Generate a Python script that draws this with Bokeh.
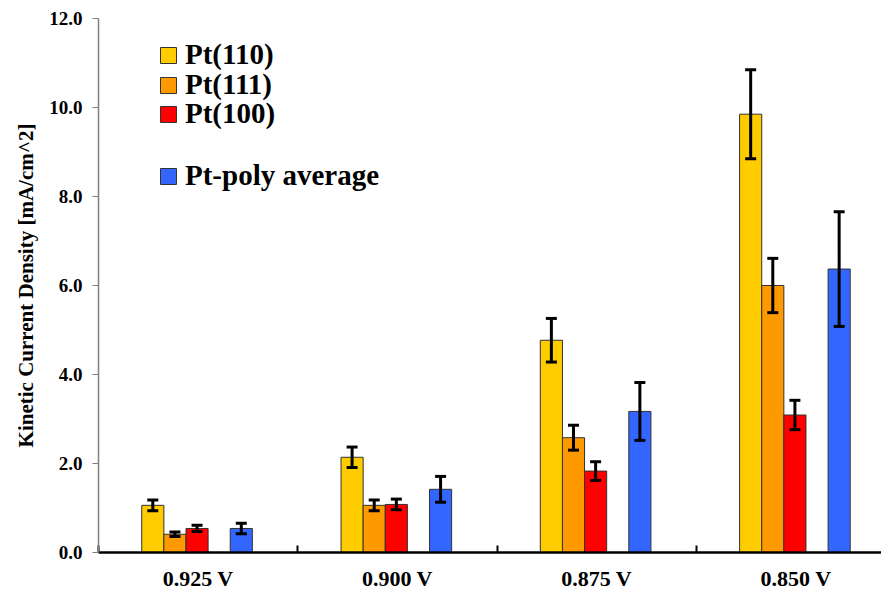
from bokeh.plotting import figure
from bokeh.models import (ColumnDataSource, Whisker, TeeHead, FixedTicker,
                          PrintfTickFormatter, Range1d, Legend, LegendItem)
from bokeh.embed import file_html
from bokeh.resources import INLINE

# Kinetic current density (mA/cm^2) at each potential, with error ranges
voltages = ["0.925 V", "0.900 V", "0.875 V", "0.850 V"]
pt110 = [1.06, 2.14, 4.77, 9.85]
pt110_err = [0.12, 0.23, 0.49, 1.00]
pt111 = [0.41, 1.06, 2.58, 6.00]
pt111_err = [0.05, 0.12, 0.28, 0.61]
pt100 = [0.54, 1.08, 1.83, 3.09]
pt100_err = [0.07, 0.12, 0.21, 0.33]
ptpoly = [0.54, 1.42, 3.17, 6.37]
ptpoly_err = [0.12, 0.29, 0.65, 1.29]

series = [
    ("Pt(110)", pt110, pt110_err, "#FFCC00", 0),
    ("Pt(111)", pt111, pt111_err, "#FF9900", 1),
    ("Pt(100)", pt100, pt100_err, "#FF0000", 2),
    ("Pt-poly average", ptpoly, ptpoly_err, "#3366FF", 4),
]

FONT = "Liberation Serif"
SLOT_START = 0.217   # left edge of the first slot inside a category
SLOT_W = 0.111       # width of one bar slot (category width = 1)

p = figure(width=881, height=593,
           x_range=Range1d(0, 3.929), y_range=Range1d(0, 12),
           output_backend="svg", toolbar_location=None,
           min_border_left=98, min_border_right=0,
           min_border_top=18, min_border_bottom=30)
p.outline_line_color = None
p.xgrid.visible = False
p.ygrid.visible = False
p.background_fill_color = "white"

renderers = {}
for name, vals, errs, color, slot in series:
    xs = [i + SLOT_START + (slot + 0.5) * SLOT_W for i in range(len(vals))]
    src = ColumnDataSource(dict(
        x=xs, top=vals,
        upper=[v + e for v, e in zip(vals, errs)],
        lower=[v - e for v, e in zip(vals, errs)],
    ))
    r = p.vbar(x="x", top="top", width=SLOT_W, source=src,
               fill_color=color, line_color="#333333", line_width=1)
    renderers[name] = r
    w = Whisker(base="x", upper="upper", lower="lower", source=src,
                dimension="height", line_color="black", line_width=3,
                level="overlay",
                upper_head=TeeHead(size=11, line_color="black", line_width=3),
                lower_head=TeeHead(size=11, line_color="black", line_width=3))
    p.add_layout(w)

# y axis
p.yaxis.ticker = FixedTicker(ticks=[0, 2, 4, 6, 8, 10, 12])
p.yaxis.formatter = PrintfTickFormatter(format="%.1f")
p.yaxis.axis_line_color = "#808080"
p.yaxis.axis_line_width = 1.5
p.yaxis.major_tick_line_color = "#808080"
p.yaxis.major_tick_out = 6
p.yaxis.major_tick_in = 0
p.yaxis.minor_tick_line_color = None
p.yaxis.major_label_text_font = FONT
p.yaxis.major_label_text_font_style = "bold"
p.yaxis.major_label_text_font_size = "19px"
p.yaxis.major_label_text_color = "black"
p.yaxis.major_label_standoff = 10
p.yaxis.axis_label = "Kinetic Current Density [mA/cm^2]"
p.yaxis.axis_label_text_font = FONT
p.yaxis.axis_label_text_font_style = "bold"
p.yaxis.axis_label_text_font_size = "21px"
p.yaxis.axis_label_text_color = "black"
p.yaxis.axis_label_standoff = 8

# x axis: labels at category centres, boundary ticks pointing up
p.xaxis.ticker = FixedTicker(ticks=[0.5, 1.5, 2.5, 3.5], minor_ticks=[0, 1, 2, 3, 4])
p.xaxis.major_label_overrides = {i + 0.5: v for i, v in enumerate(voltages)}
p.xaxis.axis_line_color = "black"
p.xaxis.axis_line_width = 2.5
p.xaxis.major_tick_line_color = None
p.xaxis.minor_tick_line_color = "black"
p.xaxis.minor_tick_line_width = 2
p.xaxis.minor_tick_in = 7
p.xaxis.minor_tick_out = 0
p.xaxis.major_label_text_font = FONT
p.xaxis.major_label_text_font_style = "bold"
p.xaxis.major_label_text_font_size = "22px"
p.xaxis.major_label_text_color = "black"
p.xaxis.major_label_standoff = 7

# one legend per row so that the rows can be spaced freely
legend_rows = [("Pt(110)", 481), ("Pt(111)", 451), ("Pt(100)", 422),
               ("Pt-poly average", 360)]
for name, ypos in legend_rows:
    lg = Legend(items=[LegendItem(label=name, renderers=[renderers[name]])],
                location=(60, ypos), orientation="vertical",
                label_text_font=FONT, label_text_font_style="bold",
                label_text_font_size="29px", label_text_color="black",
                glyph_width=20, glyph_height=20, label_height=26,
                spacing=0, padding=0, margin=0, label_standoff=7,
                border_line_color=None, background_fill_alpha=0)
    p.add_layout(lg)

open("out.html", "w").write(file_html(p, INLINE))
